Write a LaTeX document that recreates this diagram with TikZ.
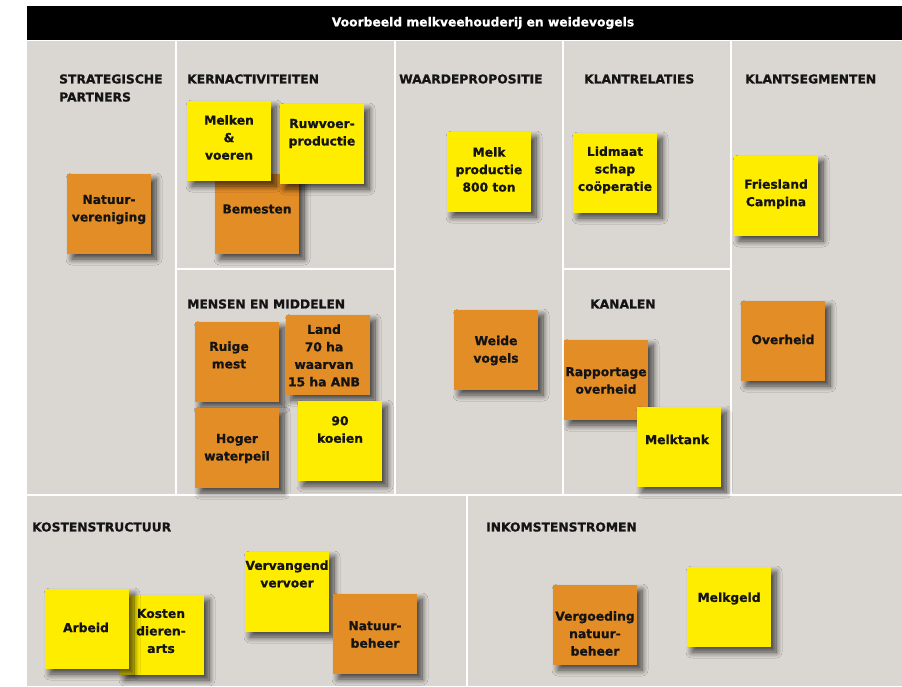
\documentclass[tikz,border=0pt]{standalone}
\usepackage{fontspec}
\setmainfont{DejaVu Sans}
\newfontfamily\heavy{DejaVu Sans Bold}[FakeBold=0.8]
\usetikzlibrary{shadows.blur}
\definecolor{panelgray}{HTML}{DAD6D1}
\definecolor{sy}{HTML}{FFED00}
\definecolor{so}{HTML}{E38D26}
\definecolor{ink}{HTML}{141414}
\begin{document}
\begin{tikzpicture}[x=1pt,y=-1pt,
  note/.style={minimum width=84pt, minimum height=80pt, inner sep=0pt, outer sep=0pt,
    blur shadow={shadow xshift=5pt, shadow yshift=-5pt, shadow blur radius=6pt, shadow blur steps=10, shadow opacity=70}},
  yel/.style={note, fill=sy},
  ora/.style={note, fill=so},
  ntxt/.style={font=\heavy\fontsize{12.3}{17.5}\selectfont, align=center, inner sep=0pt, text=ink},
  head/.style={font=\heavy\fontsize{12.3}{18}\selectfont, anchor=west, inner sep=0pt, text=ink, align=left},
  panelbox/.style={fill=panelgray, draw=none}]
\useasboundingbox (0,0) rectangle (902,686);
% panels
\fill[panelbox] (27,41) rectangle (175,494);
\fill[panelbox] (177,41) rectangle (394,268);
\fill[panelbox] (177,270) rectangle (394,494);
\fill[panelbox] (396,41) rectangle (562,494);
\fill[panelbox] (564,41) rectangle (730,268);
\fill[panelbox] (564,270) rectangle (730,494);
\fill[panelbox] (732,41) rectangle (902,494);
\fill[panelbox] (27,496) rectangle (466,686);
\fill[panelbox] (468,496) rectangle (902,686);
% title bar
\fill[black] (27,6) rectangle (902,40);
\node[font=\heavy\fontsize{12.3}{14}\selectfont, text=white, inner sep=0pt] (title) at (483,23) {Voorbeeld melkveehouderij en weidevogels};
% headings
\node[head] (h-sp) at (59,88) {STRATEGISCHE\\PARTNERS};
\node[head] (h-ka) at (187,79) {KERNACTIVITEITEN};
\node[head] (h-wp) at (399,79) {WAARDEPROPOSITIE};
\node[head] (h-kr) at (584,79) {KLANTRELATIES};
\node[head] (h-ks) at (745,79) {KLANTSEGMENTEN};
\node[head] (h-mm) at (187,304) {MENSEN EN MIDDELEN};
\node[head] (h-kn) at (590,304) {KANALEN};
\node[head] (h-kost) at (32,527) {KOSTENSTRUCTUUR};
\node[head] (h-ink) at (486,527) {INKOMSTENSTROMEN};
% stickies
\node[ora] (natver) at (109,214) {};
\node[ntxt] (natver-t) at (109,209.5) {Natuur-\\vereniging};
\node[ora] (bem) at (257,214) {};
\node[ntxt] (bem-t) at (257,209) {Bemesten};
\node[yel] (melken) at (229,141) {};
\node[ntxt] (melken-t) at (229,137.5) {Melken\\\&\\voeren};
\node[yel] (ruw) at (322,144) {};
\node[ntxt] (ruw-t) at (322,133.5) {Ruwvoer-\\productie};
\node[yel] (melkprod) at (489,172) {};
\node[ntxt] (melkprod-t) at (489,169.5) {Melk\\productie\\800 ton};
\node[yel] (lid) at (615,173) {};
\node[ntxt] (lid-t) at (615,170) {Lidmaat\\schap\\coöperatie};
\node[yel] (fc) at (776,196) {};
\node[ntxt] (fc-t) at (776,194) {Friesland\\Campina};
\node[ora] (ruige) at (237,362) {};
\node[ntxt] (ruige-t) at (229,355) {Ruige\\mest};
\node[ora] (land) at (328,355) {};
\node[ntxt] (land-t) at (324,355.5) {Land\\70 ha\\waarvan\\15 ha ANB};
\node[ora] (hoger) at (237,448) {};
\node[ntxt] (hoger-t) at (237,448.5) {Hoger\\waterpeil};
\node[yel] (koeien) at (340,441) {};
\node[ntxt] (koeien-t) at (340,429.5) {90\\koeien};
\node[ora] (weide) at (496,350) {};
\node[ntxt] (weide-t) at (496,350.5) {Weide\\vogels};
\node[ora] (rapp) at (606,380) {};
\node[ntxt] (rapp-t) at (606,380.5) {Rapportage\\overheid};
\node[yel] (tank) at (679,447) {};
\node[ntxt] (tank-t) at (677,439.5) {Melktank};
\node[ora] (overh) at (783,341) {};
\node[ntxt] (overh-t) at (783,339.5) {Overheid};
\node[yel] (kosten) at (162,635) {};
\node[ntxt] (kosten-t) at (161,631) {Kosten\\dieren-\\arts};
\node[yel] (arbeid) at (87,629) {};
\node[ntxt] (arbeid-t) at (86,627.5) {Arbeid};
\node[yel] (verv) at (287,592) {};
\node[ntxt] (verv-t) at (287,574) {Vervangend\\vervoer};
\node[ora] (natbeh) at (375,634) {};
\node[ntxt] (natbeh-t) at (375,634.5) {Natuur-\\beheer};
\node[ora] (vergo) at (595,625) {};
\node[ntxt] (vergo-t) at (595,633.5) {Vergoeding\\natuur-\\beheer};
\node[yel] (melkgeld) at (729,607) {};
\node[ntxt] (melkgeld-t) at (729,598.5) {Melkgeld};
\end{tikzpicture}
\end{document}
